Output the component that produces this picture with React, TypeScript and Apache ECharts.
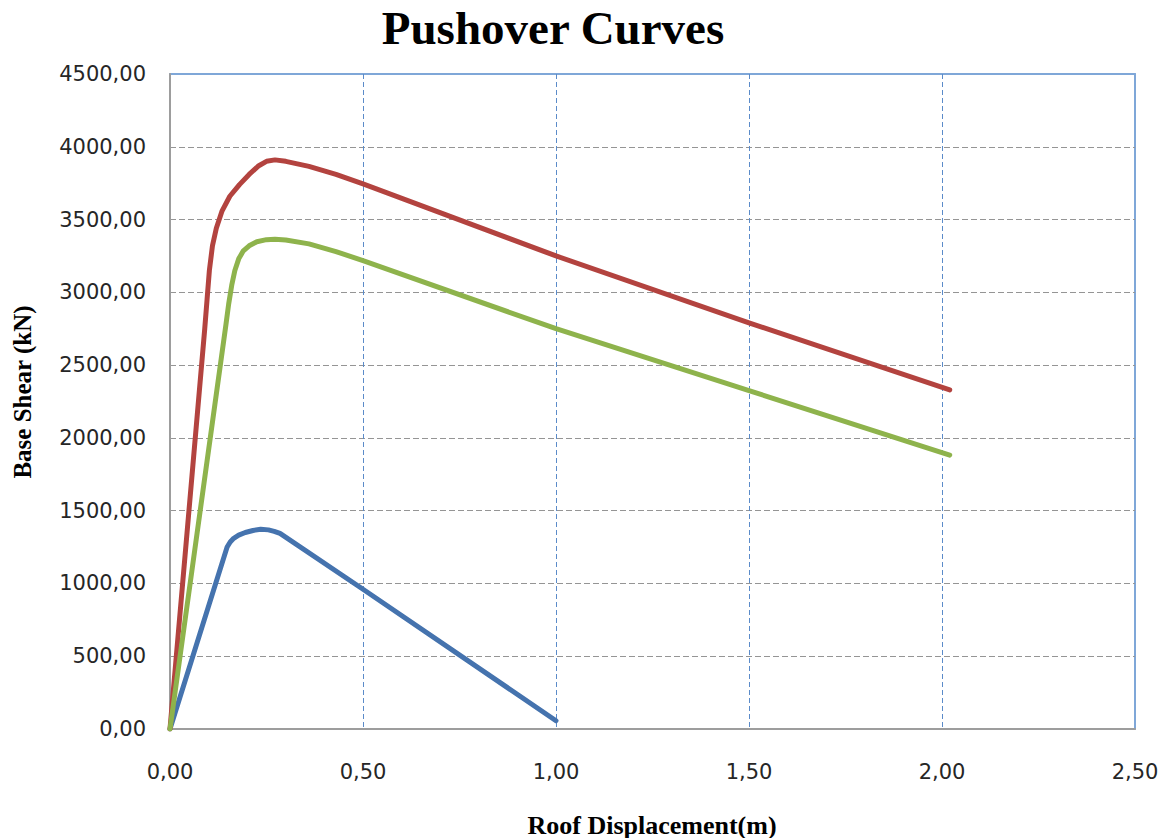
import React, { useEffect, useRef } from "react";
import * as echarts from "echarts";

// Roof displacement (m) / base shear (kN) pairs for each pushover curve
const redDisp = [0, 0.09, 0.096, 0.102, 0.11, 0.12, 0.135, 0.155, 0.18, 0.205, 0.23, 0.25, 0.272, 0.3, 0.36, 0.43, 0.5, 1.0, 1.5, 2.02];
const redShear = [0, 2750, 2950, 3150, 3320, 3440, 3560, 3660, 3740, 3810, 3870, 3900, 3910, 3900, 3865, 3810, 3745, 3250, 2790, 2330];

const greenDisp = [0, 0.145, 0.152, 0.16, 0.168, 0.178, 0.19, 0.205, 0.225, 0.25, 0.272, 0.3, 0.36, 0.43, 0.5, 1.0, 1.5, 2.02];
const greenShear = [0, 2780, 2920, 3050, 3150, 3230, 3285, 3320, 3348, 3362, 3365, 3360, 3333, 3280, 3218, 2750, 2325, 1882];

const blueDisp = [0, 0.148, 0.156, 0.165, 0.178, 0.195, 0.215, 0.235, 0.255, 0.27, 0.285, 0.5, 1.0];
const blueShear = [0, 1250, 1285, 1310, 1332, 1350, 1364, 1372, 1368, 1358, 1344, 960, 57];

// Axis ticks
const xTicks = [0, 0.5, 1.0, 1.5, 2.0, 2.5];
const yTicks = [0, 500, 1000, 1500, 2000, 2500, 3000, 3500, 4000, 4500];

const TITLE = "Pushover Curves";
const X_NAME = "Roof Displacement(m)";
const Y_NAME = "Base Shear (kN)";

const pairs = (xs: number[], ys: number[]) => xs.map((x, i) => [x, ys[i]]);
const fmt = (v: number) => v.toFixed(2).replace(".", ",");

export default function App() {
  const ref = useRef<HTMLDivElement>(null);

  useEffect(() => {
    if (!ref.current) return;
    const chart = echarts.init(ref.current, undefined, { renderer: "svg" });

    const serif = '"Liberation Serif", "Times New Roman", serif';
    const sans = '"DejaVu Sans", Verdana, sans-serif';

    const curve = (name: string, color: string, data: number[][]) => ({
      name,
      type: "line",
      data,
      showSymbol: false,
      smooth: false,
      xAxisIndex: 0,
      yAxisIndex: 0,
      lineStyle: { color, width: 5, cap: "round", join: "round" },
      itemStyle: { color },
      z: 5,
    });

    const xStep = xTicks[1] - xTicks[0];
    const yStep = yTicks[1] - yTicks[0];
    const xMin = xTicks[0];
    const xMax = xTicks[xTicks.length - 1];
    const yMin = yTicks[0];
    const yMax = yTicks[yTicks.length - 1];

    const frameAxis = (position: string) => ({
      type: "value",
      position,
      min: position === "top" ? xMin : yMin,
      max: position === "top" ? xMax : yMax,
      interval: position === "top" ? xStep : yStep,
      axisLine: { show: true, onZero: false, lineStyle: { color: "#7fa7d8", width: 2 } },
      axisTick: { show: false },
      axisLabel: { show: false },
      splitLine: { show: false },
    });

    chart.setOption({
      animation: false,
      backgroundColor: "#ffffff",
      grid: { left: 170, right: 32, top: 74, bottom: 109, containLabel: false },
      xAxis: [
        {
          type: "value",
          position: "bottom",
          min: xMin,
          max: xMax,
          interval: xStep,
          axisLine: { show: true, onZero: false, lineStyle: { color: "#9d9d9d", width: 2 } },
          axisTick: { show: false },
          axisLabel: {
            formatter: fmt,
            fontFamily: sans,
            fontSize: 21,
            color: "#262626",
            margin: 32,
          },
          splitLine: {
            show: true,
            showMinLine: false,
            showMaxLine: false,
            lineStyle: { color: "#5b8bc9", type: [5, 3], width: 1 },
          },
          z: 3,
        },
        frameAxis("top"),
      ],
      yAxis: [
        {
          type: "value",
          position: "left",
          min: yMin,
          max: yMax,
          interval: yStep,
          axisLine: { show: true, onZero: false, lineStyle: { color: "#9d9d9d", width: 2 } },
          axisTick: { show: false },
          axisLabel: {
            formatter: fmt,
            fontFamily: sans,
            fontSize: 21,
            color: "#262626",
            margin: 24,
          },
          splitLine: {
            show: true,
            showMinLine: false,
            showMaxLine: false,
            lineStyle: { color: "#959595", type: [6, 3], width: 1.2 },
          },
          z: 3,
        },
        frameAxis("right"),
      ],
      series: [
        curve("Blue", "#4573ae", pairs(blueDisp, blueShear)),
        curve("Red", "#b3433f", pairs(redDisp, redShear)),
        curve("Green", "#8eb34c", pairs(greenDisp, greenShear)),
      ],
      graphic: [
        {
          type: "text",
          x: 553,
          y: 28,
          style: {
            text: TITLE,
            font: `bold 47px ${serif}`,
            fill: "#000000",
            align: "center",
            verticalAlign: "middle",
          },
        },
        {
          type: "text",
          x: 652,
          y: 825,
          style: {
            text: X_NAME,
            font: `bold 26px ${serif}`,
            fill: "#000000",
            align: "center",
            verticalAlign: "middle",
          },
        },
        {
          type: "text",
          x: 22,
          y: 392,
          rotation: Math.PI / 2,
          style: {
            text: Y_NAME,
            font: `bold 25px ${serif}`,
            fill: "#000000",
            align: "center",
            verticalAlign: "middle",
          },
        },
      ],
    });

    return () => chart.dispose();
  }, []);

  return (
    <div
      ref={ref}
      style={{ position: "fixed", left: 0, top: 0, width: 1167, height: 838, background: "#fff" }}
    />
  );
}
